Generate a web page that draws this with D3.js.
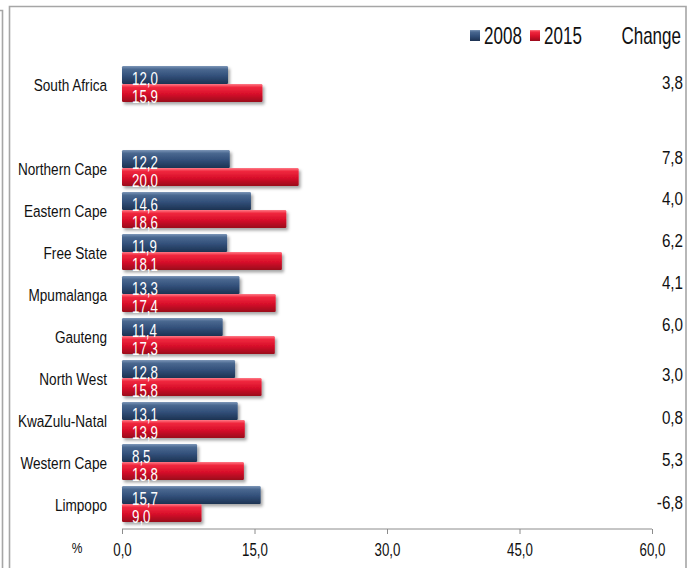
<!DOCTYPE html>
<html>
<head>
<meta charset="utf-8">
<script src="https://cdn.jsdelivr.net/npm/d3@7/dist/d3.min.js"></script>
<style>
  html, body { margin: 0; padding: 0; background: #fff; }
  svg { display: block; }
  text { font-family: "Liberation Sans", Arial, sans-serif; }
</style>
</head>
<body>
<svg id="chart" width="696" height="568"></svg>
<script>
// Provinces, with a blank row separating the national figure
const categories = ["South Africa", "", "Northern Cape", "Eastern Cape", "Free State", "Mpumalanga",
  "Gauteng", "North West", "KwaZulu-Natal", "Western Cape", "Limpopo"];
const seriesNames = ["2008", "2015"];
const values2008 = [12.0, null, 12.2, 14.6, 11.9, 13.3, 11.4, 12.8, 13.1, 8.5, 15.7];
const values2015 = [15.9, null, 20.0, 18.6, 18.1, 17.4, 17.3, 15.8, 13.9, 13.8, 9.0];
const changes = ["3,8", "", "7,8", "4,0", "6,2", "4,1", "6,0", "3,0", "0,8", "5,3", "-6,8"];
const xTicks = [0, 15, 30, 45, 60];

const svg = d3.select("#chart");
const fmt = v => d3.format(".1f")(v).replace(".", ",");

// Condensed text: horizontally squeezed Liberation Sans
function label(parent, x, y, str, size, opts = {}) {
  const sx = opts.sx || 0.78;
  return parent.append("text")
    .attr("transform", `translate(${x},${y}) scale(${sx},1)`)
    .attr("text-anchor", opts.anchor || "start")
    .attr("dominant-baseline", opts.baseline || "central")
    .attr("font-size", size)
    .attr("fill", opts.fill || "#111")
    .text(str);
}

// Frame lines
const frame = svg.append("g").attr("fill", "none").attr("stroke", "#a6a6a6").attr("stroke-width", 1.6);
frame.append("path").attr("d", "M0,10.5H2.5V568");
frame.append("path").attr("d", "M9.5,568V6.5H686V568");

// Gradients for the bevelled bars
const defs = svg.append("defs");
function grad(id, stops) {
  const g = defs.append("linearGradient").attr("id", id).attr("x1", 0).attr("y1", 0).attr("x2", 0).attr("y2", 1);
  stops.forEach(([o, c]) => g.append("stop").attr("offset", o).attr("stop-color", c));
}
grad("g2008", [[0, "#7d97b8"], [0.18, "#4a6890"], [0.55, "#32507a"], [1, "#1d3252"]]);
grad("g2015", [[0, "#ff7a86"], [0.18, "#f0283f"], [0.55, "#d8102a"], [1, "#9a0a1c"]]);
const sh = defs.append("filter").attr("id", "shadow").attr("x", "-5%").attr("y", "-20%").attr("width", "115%").attr("height", "160%");
sh.append("feDropShadow").attr("dx", 2).attr("dy", 2.5).attr("stdDeviation", 1.6)
  .attr("flood-color", "#000").attr("flood-opacity", 0.35);

const x = d3.scaleLinear().domain([0, 60]).range([122, 652]);
const y = d3.scaleBand().domain(categories.map((c, i) => i)).range([63, 525]);
const inner = d3.scaleBand().domain(seriesNames).range([3, 39]);
const colors = { "2008": "url(#g2008)", "2015": "url(#g2015)" };

const rows = categories.map((c, i) => ({ i, name: c, v: { "2008": values2008[i], "2015": values2015[i] }, change: changes[i] }))
  .filter(d => d.name !== "");

// Bars
const bars = svg.append("g");
rows.forEach(r => {
  seriesNames.forEach(s => {
    bars.append("rect")
      .attr("x", x(0))
      .attr("y", y(r.i) + inner(s))
      .attr("width", x(r.v[s]) - x(0))
      .attr("height", inner.bandwidth())
      .attr("rx", 1.2)
      .attr("fill", colors[s])
      .attr("filter", "url(#shadow)");
  });
});

// Value labels inside the bars
const valueLayer = svg.append("g");
rows.forEach(r => {
  seriesNames.forEach(s => {
    label(valueLayer, x(0) + 10, y(r.i) + inner(s) + inner.bandwidth() + 1, fmt(r.v[s]), 19,
      { sx: 0.7, baseline: "auto", fill: "#fff" });
  });
});

// Category labels
const catLayer = svg.append("g");
rows.forEach(r => label(catLayer, 107, y(r.i) + y.bandwidth() / 2 + 1, r.name, 17, { anchor: "end", sx: 0.8 }));

// Change column
const changeNudge = [-2, 0, -11, -12, -12, -12, -12, -4, -3, -3, -2];
const changeLayer = svg.append("g");
rows.forEach(r => label(changeLayer, 683, y(r.i) + y.bandwidth() / 2 + changeNudge[r.i], r.change, 19,
  { anchor: "end", sx: 0.8 }));

// X axis
const axis = svg.append("g").attr("transform", "translate(0,529)")
  .call(d3.axisBottom(x).tickValues(xTicks).tickSize(5).tickPadding(10).tickFormat(fmt));
axis.select(".domain").attr("stroke", "#8c8c8c").attr("d", `M${x(0)},0H${x(60)}`);
axis.selectAll(".tick line").attr("stroke", "#8c8c8c");
axis.selectAll(".tick text").attr("font-size", 17.5).attr("fill", "#111")
  .attr("transform", "scale(0.76,1)")
  .style("font-family", "'Liberation Sans', Arial, sans-serif");
label(svg, 77, 548, "%", 15, { anchor: "middle", sx: 0.8 });

// Legend
const legend = svg.append("g");
const legendItems = [{ s: "2008", x: 470 }, { s: "2015", x: 530 }];
legendItems.forEach(li => {
  legend.append("rect").attr("x", li.x).attr("y", 30).attr("width", 10).attr("height", 11)
    .attr("fill", colors[li.s]);
  label(legend, li.x + 14, 36, li.s, 23, { sx: 0.74 });
});
label(legend, 681, 36, "Change", 23, { anchor: "end", sx: 0.74 });
</script>
</body>
</html>
